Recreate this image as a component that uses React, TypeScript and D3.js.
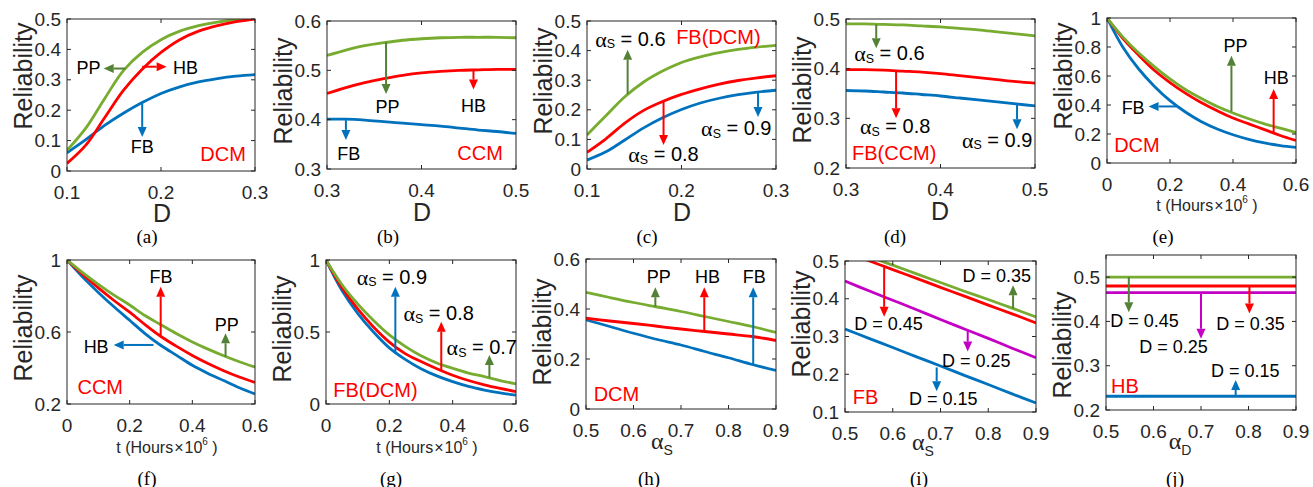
import React from 'react';
import * as d3 from 'd3';

const GREEN = '#77AC30';
const DGREEN = '#538135';
const RED = '#FF0000';
const BLUE = '#0072BD';
const MAGENTA = '#C400C4';
const AXIS = '#262626';
const SANS = "'Liberation Sans', Arial, Helvetica, sans-serif";
const SERIF = "'Liberation Serif', 'Times New Roman', serif";

// ---------- data ----------
const dLow = [0.1, 0.12, 0.14, 0.16, 0.18, 0.2, 0.22, 0.24, 0.26, 0.28, 0.3];
const dHigh = [0.3, 0.32, 0.34, 0.36, 0.38, 0.4, 0.42, 0.44, 0.46, 0.48, 0.5];
const tHours = [0, 0.05, 0.1, 0.15, 0.2, 0.25, 0.3, 0.35, 0.4, 0.45, 0.5, 0.55, 0.6];
const alphaS = [0.5, 0.55, 0.6, 0.65, 0.7, 0.75, 0.8, 0.85, 0.9];
const alphaD = [0.5, 0.6, 0.7, 0.8, 0.9];

const aPP = [0.068, 0.141, 0.238, 0.33, 0.39, 0.432, 0.46, 0.478, 0.49, 0.498, 0.503];
const aHB = [0.025, 0.085, 0.175, 0.265, 0.335, 0.39, 0.432, 0.46, 0.478, 0.491, 0.5];
const aFB = [0.06, 0.103, 0.15, 0.19, 0.225, 0.255, 0.277, 0.293, 0.304, 0.312, 0.317];

const bPP = [0.53, 0.541, 0.55, 0.556, 0.561, 0.564, 0.566, 0.567, 0.567, 0.567, 0.566];
const bHB = [0.453, 0.465, 0.475, 0.483, 0.49, 0.495, 0.498, 0.5, 0.501, 0.502, 0.502];
const bFB = [0.401, 0.401, 0.399, 0.396, 0.393, 0.39, 0.387, 0.383, 0.379, 0.376, 0.372];

const cA06 = [0.115, 0.18, 0.244, 0.294, 0.331, 0.36, 0.379, 0.393, 0.404, 0.412, 0.418];
const cA08 = [0.056, 0.102, 0.155, 0.198, 0.228, 0.252, 0.271, 0.287, 0.299, 0.308, 0.315];
const cA09 = [0.03, 0.058, 0.098, 0.139, 0.173, 0.201, 0.223, 0.239, 0.251, 0.26, 0.266];

const dA06 = [0.49, 0.49, 0.489, 0.488, 0.486, 0.484, 0.481, 0.478, 0.474, 0.47, 0.466];
const dA08 = [0.398, 0.398, 0.397, 0.395, 0.393, 0.39, 0.386, 0.382, 0.378, 0.374, 0.371];
const dA09 = [0.356, 0.355, 0.353, 0.351, 0.348, 0.345, 0.341, 0.337, 0.333, 0.329, 0.325];

const ePP = [1, 0.87, 0.76, 0.665, 0.58, 0.505, 0.445, 0.39, 0.345, 0.305, 0.27, 0.24, 0.21];
const eHB = [1, 0.86, 0.745, 0.64, 0.555, 0.48, 0.415, 0.36, 0.31, 0.27, 0.23, 0.19, 0.155];
const eFB = [1, 0.8, 0.65, 0.53, 0.43, 0.35, 0.285, 0.235, 0.195, 0.163, 0.138, 0.12, 0.108];

const fPP = [1, 0.93, 0.865, 0.805, 0.75, 0.69, 0.64, 0.59, 0.545, 0.505, 0.468, 0.435, 0.405];
const fFB = [1, 0.92, 0.845, 0.775, 0.71, 0.64, 0.575, 0.52, 0.47, 0.425, 0.385, 0.35, 0.32];
const fHB = [1, 0.905, 0.82, 0.74, 0.665, 0.59, 0.525, 0.47, 0.415, 0.37, 0.33, 0.29, 0.256];

const gA07 = [1, 0.83, 0.695, 0.58, 0.48, 0.4, 0.335, 0.285, 0.248, 0.215, 0.19, 0.163, 0.14];
const gA08 = [1, 0.81, 0.66, 0.535, 0.43, 0.35, 0.295, 0.245, 0.2, 0.163, 0.133, 0.108, 0.086];
const gA09 = [1, 0.79, 0.63, 0.5, 0.39, 0.31, 0.245, 0.195, 0.155, 0.122, 0.097, 0.077, 0.062];

const hPP = [0.467, 0.446, 0.426, 0.408, 0.39, 0.37, 0.35, 0.33, 0.306];
const hHB = [0.363, 0.352, 0.342, 0.331, 0.32, 0.31, 0.3, 0.29, 0.274];
const hFB = [0.357, 0.33, 0.303, 0.278, 0.256, 0.23, 0.205, 0.178, 0.154];

const iD35 = [0.535, 0.512, 0.489, 0.466, 0.443, 0.42, 0.398, 0.375, 0.352];
const iD45 = [0.525, 0.501, 0.477, 0.454, 0.43, 0.407, 0.383, 0.36, 0.336];
const iD25 = [0.447, 0.421, 0.396, 0.371, 0.345, 0.32, 0.295, 0.269, 0.244];
const iD15 = [0.32, 0.295, 0.271, 0.246, 0.222, 0.197, 0.173, 0.148, 0.124];

const jD45 = [0.5, 0.5, 0.5, 0.5, 0.5];
const jD35 = [0.48, 0.48, 0.48, 0.48, 0.48];
const jD25 = [0.465, 0.465, 0.465, 0.465, 0.465];
const jD15 = [0.231, 0.231, 0.231, 0.231, 0.231];

// tick labels
const ticksDLow = [0.1, 0.2, 0.3];
const ticksDHigh = [0.3, 0.4, 0.5];
const ticksT = [0, 0.2, 0.4, 0.6];
const ticksAlpha = [0.5, 0.6, 0.7, 0.8, 0.9];

type Arrow = [number, number, number, number, string];
type Note = [number, number, string, string];

// annotations (data coordinates)
const aArrows: Arrow[] = [[0.162, 0.337, 0.139, 0.337, DGREEN], [0.18, 0.343, 0.206, 0.343, RED], [0.18, 0.225, 0.18, 0.112, BLUE]];
const aNotes: Note[] = [[0.123, 0.34, 'PP', 'k'], [0.226, 0.34, 'HB', 'k'], [0.18, 0.079, 'FB', 'k'], [0.266, 0.057, 'DCM', 'r']];
const bArrows: Arrow[] = [[0.3625, 0.557, 0.3625, 0.452, DGREEN], [0.455, 0.502, 0.455, 0.461, RED], [0.32, 0.399, 0.32, 0.359, BLUE]];
const bNotes: Note[] = [[0.364, 0.426, 'PP', 'k'], [0.455, 0.427, 'HB', 'k'], [0.323, 0.33, 'FB', 'k'], [0.462, 0.333, 'CCM', 'r']];
const cArrows: Arrow[] = [[0.143, 0.253, 0.143, 0.403, DGREEN], [0.181, 0.23, 0.181, 0.081, RED], [0.281, 0.261, 0.281, 0.176, BLUE]];
const cNotes: Note[] = [[0.146, 0.44, 'αS = 0.6', 'k'], [0.239, 0.446, 'FB(DCM)', 'r'], [0.181, 0.051, 'αS = 0.8', 'k'], [0.258, 0.137, 'αS = 0.9', 'k']];
const dArrows: Arrow[] = [[0.332, 0.489, 0.332, 0.441, DGREEN], [0.353, 0.396, 0.353, 0.3, RED], [0.481, 0.328, 0.481, 0.278, BLUE]];
const dNotes: Note[] = [[0.346, 0.431, 'αS = 0.6', 'k'], [0.352, 0.284, 'αS = 0.8', 'k'], [0.351, 0.23, 'FB(CCM)', 'r'], [0.46, 0.257, 'αS = 0.9', 'k']];
const eArrows: Arrow[] = [[0.395, 0.356, 0.395, 0.74, DGREEN], [0.529, 0.2, 0.529, 0.51, RED], [0.222, 0.39, 0.132, 0.39, BLUE]];
const eNotes: Note[] = [[0.408, 0.805, 'PP', 'k'], [0.537, 0.586, 'HB', 'k'], [0.083, 0.379, 'FB', 'k'], [0.095, 0.122, 'DCM', 'r']];
const fArrows: Arrow[] = [[0.299, 0.574, 0.299, 0.852, RED], [0.506, 0.463, 0.506, 0.593, DGREEN], [0.276, 0.528, 0.149, 0.528, BLUE]];
const fNotes: Note[] = [[0.3, 0.907, 'FB', 'k'], [0.51, 0.639, 'PP', 'k'], [0.093, 0.515, 'HB', 'k'], [0.106, 0.296, 'CCM', 'r']];
const gArrows: Arrow[] = [[0.219, 0.352, 0.219, 0.815, BLUE], [0.364, 0.236, 0.364, 0.572, RED], [0.516, 0.185, 0.516, 0.34, DGREEN]];
const gNotes: Note[] = [[0.208, 0.884, 'αS = 0.9', 'k'], [0.356, 0.63, 'αS = 0.8', 'k'], [0.492, 0.394, 'αS = 0.7', 'k'], [0.156, 0.097, 'FB(DCM)', 'r']];
const hArrows: Arrow[] = [[0.646, 0.41, 0.646, 0.487, DGREEN], [0.749, 0.31, 0.749, 0.487, RED], [0.852, 0.177, 0.852, 0.487, BLUE]];
const hNotes: Note[] = [[0.653, 0.53, 'PP', 'k'], [0.756, 0.53, 'HB', 'k'], [0.854, 0.53, 'FB', 'k'], [0.564, 0.061, 'DCM', 'r']];
const iArrows: Arrow[] = [[0.582, 0.489, 0.582, 0.352, RED], [0.852, 0.374, 0.852, 0.436, DGREEN], [0.757, 0.315, 0.757, 0.26, MAGENTA], [0.692, 0.218, 0.692, 0.155, BLUE]];
const iNotes: Note[] = [[0.591, 0.332, 'D = 0.45', 'k'], [0.818, 0.46, 'D = 0.35', 'k'], [0.775, 0.234, 'D = 0.25', 'k'], [0.706, 0.134, 'D = 0.15', 'k'], [0.543, 0.14, 'FB', 'r']];
const jArrows: Arrow[] = [[0.548, 0.5, 0.548, 0.421, DGREEN], [0.7, 0.465, 0.7, 0.361, MAGENTA], [0.802, 0.48, 0.802, 0.418, RED], [0.773, 0.231, 0.773, 0.268, BLUE]];
const jNotes: Note[] = [[0.581, 0.4, 'D = 0.45', 'k'], [0.642, 0.343, 'D = 0.25', 'k'], [0.804, 0.395, 'D = 0.35', 'k'], [0.793, 0.289, 'D = 0.15', 'k'], [0.54, 0.255, 'HB', 'r']];

type Panel = {
  id: string;
  box: { l: number; r: number; t: number; b: number };
  xd: [number, number];
  yd: [number, number];
  xt: number[];
  yt: number[];
  xs: number[];
  series: { y: number[]; c: string }[];
  arrows: Arrow[];
  notes: Note[];
  xlabel: 'D' | 't' | 'aS' | 'aD';
  xlx: number;
  xly: number;
  yly: number;
  capx: number;
  capy: number;
};

const panels: Panel[] = [
  { id: 'a', box: { l: 67, r: 255, t: 19, b: 171 }, xd: [0.1, 0.3], yd: [0, 0.5], xt: ticksDLow, yt: [0, 0.1, 0.2, 0.3, 0.4, 0.5], xs: dLow,
    series: [{ y: aFB, c: BLUE }, { y: aPP, c: GREEN }, { y: aHB, c: RED }], arrows: aArrows, notes: aNotes, xlabel: 'D', xlx: 162, xly: 213, yly: 76, capx: 147, capy: 236 },
  { id: 'b', box: { l: 327, r: 516, t: 21, b: 169 }, xd: [0.3, 0.5], yd: [0.3, 0.6], xt: ticksDHigh, yt: [0.3, 0.4, 0.5, 0.6], xs: dHigh,
    series: [{ y: bFB, c: BLUE }, { y: bPP, c: GREEN }, { y: bHB, c: RED }], arrows: bArrows, notes: bNotes, xlabel: 'D', xlx: 422, xly: 212, yly: 91, capx: 388, capy: 236 },
  { id: 'c', box: { l: 587, r: 776, t: 21, b: 169 }, xd: [0.1, 0.3], yd: [0, 0.5], xt: ticksDLow, yt: [0, 0.1, 0.2, 0.3, 0.4, 0.5], xs: dLow,
    series: [{ y: cA09, c: BLUE }, { y: cA06, c: GREEN }, { y: cA08, c: RED }], arrows: cArrows, notes: cNotes, xlabel: 'D', xlx: 682, xly: 212, yly: 81, capx: 647, capy: 236 },
  { id: 'd', box: { l: 846, r: 1035, t: 19, b: 168 }, xd: [0.3, 0.5], yd: [0.2, 0.5], xt: ticksDHigh, yt: [0.2, 0.3, 0.4, 0.5], xs: dHigh,
    series: [{ y: dA09, c: BLUE }, { y: dA06, c: GREEN }, { y: dA08, c: RED }], arrows: dArrows, notes: dNotes, xlabel: 'D', xlx: 940, xly: 211, yly: 90, capx: 895, capy: 236 },
  { id: 'e', box: { l: 1107, r: 1296, t: 18, b: 163 }, xd: [0, 0.6], yd: [0, 1], xt: ticksT, yt: [0, 0.2, 0.4, 0.6, 0.8, 1], xs: tHours,
    series: [{ y: eFB, c: BLUE }, { y: eHB, c: RED }, { y: ePP, c: GREEN }], arrows: eArrows, notes: eNotes, xlabel: 't', xlx: 1207, xly: 205, yly: 76, capx: 1163, capy: 236 },
  { id: 'f', box: { l: 67, r: 255, t: 260, b: 404 }, xd: [0, 0.6], yd: [0.2, 1], xt: ticksT, yt: [0.2, 0.6, 1], xs: tHours,
    series: [{ y: fHB, c: BLUE }, { y: fFB, c: RED }, { y: fPP, c: GREEN }], arrows: fArrows, notes: fNotes, xlabel: 't', xlx: 167, xly: 447, yly: 328, capx: 147, capy: 478 },
  { id: 'g', box: { l: 326, r: 516, t: 260, b: 404 }, xd: [0, 0.6], yd: [0, 1], xt: ticksT, yt: [0, 0.5, 1], xs: tHours,
    series: [{ y: gA09, c: BLUE }, { y: gA08, c: RED }, { y: gA07, c: GREEN }], arrows: gArrows, notes: gNotes, xlabel: 't', xlx: 427, xly: 447, yly: 329, capx: 391, capy: 478 },
  { id: 'h', box: { l: 586, r: 776, t: 259, b: 409 }, xd: [0.5, 0.9], yd: [0, 0.6], xt: ticksAlpha, yt: [0, 0.2, 0.4, 0.6], xs: alphaS,
    series: [{ y: hFB, c: BLUE }, { y: hHB, c: RED }, { y: hPP, c: GREEN }], arrows: hArrows, notes: hNotes, xlabel: 'aS', xlx: 662, xly: 441, yly: 332, capx: 649, capy: 478 },
  { id: 'i', box: { l: 845, r: 1036, t: 261, b: 412 }, xd: [0.5, 0.9], yd: [0.1, 0.5], xt: ticksAlpha, yt: [0.1, 0.2, 0.3, 0.4, 0.5], xs: alphaS,
    series: [{ y: iD15, c: BLUE }, { y: iD25, c: MAGENTA }, { y: iD45, c: RED }, { y: iD35, c: GREEN }], arrows: iArrows, notes: iNotes, xlabel: 'aS', xlx: 923, xly: 442, yly: 324, capx: 919, capy: 478 },
  { id: 'j', box: { l: 1106, r: 1296, t: 255, b: 410 }, xd: [0.5, 0.9], yd: [0.2, 0.55], xt: ticksAlpha, yt: [0.2, 0.3, 0.4, 0.5], xs: alphaD,
    series: [{ y: jD15, c: BLUE }, { y: jD25, c: MAGENTA }, { y: jD35, c: RED }, { y: jD45, c: GREEN }], arrows: jArrows, notes: jNotes, xlabel: 'aD', xlx: 1180, xly: 441, yly: 345, capx: 1175, capy: 478 },
];

const fmt = (v: number) => String(+v.toFixed(2));

function NoteText({ x, y, text, color }: { x: number; y: number; text: string; color: string }) {
  const red = color === 'r';
  const fill = red ? RED : '#000';
  if (text.startsWith('α')) {
    const size = 20;
    const sub = text[1];
    const rest = text.slice(2);
    return (
      <text x={x} y={y} fontSize={size} fill={fill} textAnchor="middle" dominantBaseline="central" fontFamily={SANS} style={{ whiteSpace: 'pre' }}>
        <tspan fontFamily={SERIF} fontSize={size * 1.1}>α</tspan>
        <tspan fontSize={size * 0.62} dy={size * 0.28}>{sub}</tspan>
        <tspan dy={-size * 0.28}>{rest}</tspan>
      </text>
    );
  }
  const size = red ? 20 : 18;
  return (
    <text x={x} y={y} fontSize={size} fill={fill} textAnchor="middle" dominantBaseline="central" fontFamily={SANS} style={{ whiteSpace: 'pre' }}>
      {text}
    </text>
  );
}

function ArrowMark({ x1, y1, x2, y2, color }: { x1: number; y1: number; x2: number; y2: number; color: string }) {
  const dx = x2 - x1, dy = y2 - y1;
  const len = Math.hypot(dx, dy) || 1;
  const ux = dx / len, uy = dy / len;
  const hl = 10, hw = 4.5;
  const bx = x2 - ux * hl, by = y2 - uy * hl;
  const pts = [[x2, y2], [bx - uy * hw, by + ux * hw], [bx + uy * hw, by - ux * hw]];
  return (
    <g>
      <line x1={x1} y1={y1} x2={bx} y2={by} stroke={color} strokeWidth={2} />
      <polygon points={pts.map(p => p.join(',')).join(' ')} fill={color} />
    </g>
  );
}

function XLabel({ p }: { p: Panel }) {
  if (p.xlabel === 'D') {
    return <text x={p.xlx} y={p.xly} fontSize={25} fill={AXIS} textAnchor="middle" dominantBaseline="central" fontFamily={SANS}>D</text>;
  }
  if (p.xlabel === 't') {
    return (
      <text x={p.xlx} y={p.xly} fontSize={16} fill={AXIS} textAnchor="middle" dominantBaseline="central" fontFamily={SANS} style={{ whiteSpace: 'pre' }}>
        <tspan>t (Hours</tspan>
        <tspan dx={1}>×</tspan>
        <tspan dx={1}>10</tspan>
        <tspan fontSize={10} dy={-6}>6</tspan>
        <tspan dy={6}> )</tspan>
      </text>
    );
  }
  const sub = p.xlabel === 'aS' ? 'S' : 'D';
  return (
    <text x={p.xlx} y={p.xly} fontSize={24} fill={AXIS} textAnchor="middle" dominantBaseline="central" fontFamily={SERIF}>
      <tspan>α</tspan>
      <tspan fontFamily={SANS} fontSize={14} dy={9}>{sub}</tspan>
    </text>
  );
}

function PanelView({ p }: { p: Panel }) {
  const { l, r, t, b } = p.box;
  const x = d3.scaleLinear().domain(p.xd).range([l, r]);
  const y = d3.scaleLinear().domain(p.yd).range([b, t]);
  const line = d3.line<number>().x((_, i) => x(p.xs[i])).y(v => y(v)).curve(d3.curveCatmullRom.alpha(0.5));
  const tk = 4;
  const clipId = `clip-${p.id}`;
  return (
    <g>
      <defs>
        <clipPath id={clipId}>
          <rect x={l} y={t} width={r - l} height={b - t} />
        </clipPath>
      </defs>
      <rect x={l} y={t} width={r - l} height={b - t} fill="#fff" />
      <g clipPath={`url(#${clipId})`}>
        {p.series.map((s, i) => (
          <path key={i} d={line(s.y) || ''} fill="none" stroke={s.c} strokeWidth={2.8} />
        ))}
      </g>
      <rect x={l} y={t} width={r - l} height={b - t} fill="none" stroke={AXIS} strokeWidth={1} />
      {p.xt.map((v, i) => (
        <g key={'xt' + i}>
          <line x1={x(v)} x2={x(v)} y1={b} y2={b - tk} stroke={AXIS} />
          <line x1={x(v)} x2={x(v)} y1={t} y2={t + tk} stroke={AXIS} />
          <text x={x(v)} y={b + 21} fontSize={19} fill={AXIS} textAnchor="middle" dominantBaseline="central" fontFamily={SANS}>{fmt(v)}</text>
        </g>
      ))}
      {p.yt.map((v, i) => (
        <g key={'yt' + i}>
          <line x1={l} x2={l + tk} y1={y(v)} y2={y(v)} stroke={AXIS} />
          <line x1={r} x2={r - tk} y1={y(v)} y2={y(v)} stroke={AXIS} />
          <text x={l - 6} y={y(v)} fontSize={19} fill={AXIS} textAnchor="end" dominantBaseline="central" fontFamily={SANS}>{fmt(v)}</text>
        </g>
      ))}
      {p.arrows.map((a, i) => (
        <ArrowMark key={'ar' + i} x1={x(a[0])} y1={y(a[1])} x2={x(a[2])} y2={y(a[3])} color={a[4]} />
      ))}
      {p.notes.map((n, i) => (
        <NoteText key={'nt' + i} x={x(n[0])} y={y(n[1])} text={n[2]} color={n[3]} />
      ))}
      <text transform={`translate(${l - 44},${p.yly}) rotate(-90)`} fontSize={25} fill={AXIS} textAnchor="middle" dominantBaseline="central" fontFamily={SANS}>Reliability</text>
      <XLabel p={p} />
      <text x={p.capx} y={p.capy} fontSize={19} fill="#000" textAnchor="middle" dominantBaseline="central" fontFamily={SERIF}>({p.id})</text>
    </g>
  );
}

export default function App() {
  return (
    <svg width={1313} height={487} style={{ position: 'absolute', left: 0, top: 0, background: '#fff' }}>
      <rect x={0} y={0} width={1313} height={487} fill="#fff" />
      {panels.map(p => <PanelView key={p.id} p={p} />)}
    </svg>
  );
}
